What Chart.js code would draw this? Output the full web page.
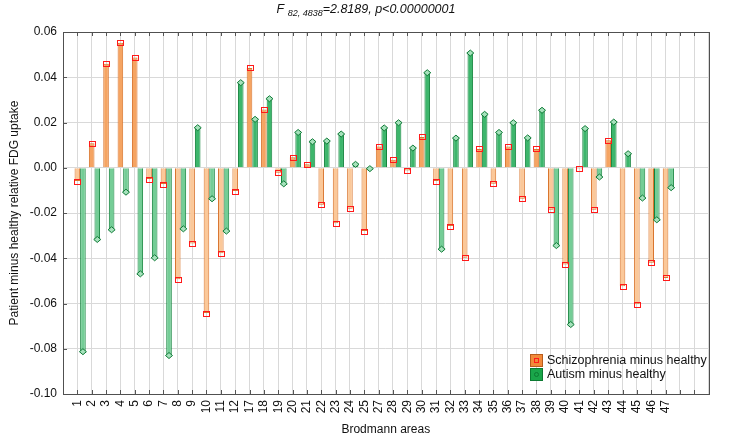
<!DOCTYPE html>
<html lang="en">
<head>
  <meta charset="UTF-8">
  <title>Brodmann areas – FDG uptake</title>
  <script src="https://cdn.jsdelivr.net/npm/chart.js@4"></script>
  <style>
    html, body { margin: 0; padding: 0; background: #fff; }
    #wrap { width: 729px; height: 441px; }
  </style>
</head>
<body>
  <div id="wrap"><canvas id="chart" width="729" height="441"></canvas></div>
  <script>
    // Brodmann areas shown on the x axis
    const areas = ['1', '2', '3', '4', '5', '6', '7', '8', '9', '10', '11', '12',
      '17', '18', '19', '20', '21', '22', '23', '24', '25',
      '27', '28', '29', '30', '31', '32', '33', '34', '35', '36', '37', '38', '39',
      '40', '41', '42', '43', '44', '45', '46', '47'];

    // Patient minus healthy relative FDG uptake
    const schizo = [-0.0059, 0.0108, 0.0460, 0.0552, 0.0487, -0.0050, -0.0072, -0.0493, -0.0335, -0.0642,
      -0.0378, -0.0103, 0.0441, 0.0258, -0.0022, 0.0046, 0.0015, -0.0164, -0.0245, -0.0181, -0.0280,
      0.0094, 0.0035, -0.0012, 0.0136, -0.0059, -0.0258, -0.0398, 0.0083, -0.0071, 0.0094, -0.0137,
      0.0083, -0.0186, -0.0428, -0.0004, -0.0186, 0.0121, -0.0524, -0.0603, -0.0420, -0.0487];
    const autism = [-0.0813, -0.0317, -0.0274, -0.0108, -0.0469, -0.0398, -0.0830, -0.0270, 0.0177, -0.0137,
      -0.0280, 0.0376, 0.0214, 0.0305, -0.0071, 0.0156, 0.0115, 0.0118, 0.0149, 0.0015, -0.0004,
      0.0176, 0.0199, 0.0087, 0.0420, -0.0360, 0.0131, 0.0507, 0.0236, 0.0156, 0.0199, 0.0132,
      0.0254, -0.0344, -0.0693, 0.0173, -0.0041, 0.0202, 0.0062, -0.0134, -0.0230, -0.0088];

    const yMin = -0.10, yMax = 0.06, yStep = 0.02;

    // one empty slot before the first area and three after the last one
    const labels = [''].concat(areas, ['', '', '']);
    const pad = arr => [null].concat(arr, [null, null, null]);

    const orange = { pos: '#F5A462', neg: '#FBC899', line: '#D9752E' };
    const green = { pos: '#3DB66C', neg: '#74CD96', line: '#15843E' };

    function fillFor(c) {
      return ctx => (ctx.raw != null && ctx.raw < 0) ? c.neg : c.pos;
    }

    // frame, inner ticks, bar-end markers, legend and title
    const decorations = {
      id: 'decorations',
      afterDatasetsDraw(chart) {
        const ctx = chart.ctx;
        const a = chart.chartArea;
        const xs = chart.scales.x, ys = chart.scales.y;
        ctx.save();

        // inner tick marks
        ctx.strokeStyle = '#555';
        ctx.lineWidth = 1;
        ctx.beginPath();
        xs.ticks.forEach((t, i) => {
          const px = Math.round(xs.getPixelForTick(i)) + 0.5;
          ctx.moveTo(px, a.top); ctx.lineTo(px, a.top + 4);
          ctx.moveTo(px, a.bottom); ctx.lineTo(px, a.bottom - 4);
        });
        ys.ticks.forEach((t, i) => {
          const py = Math.round(ys.getPixelForTick(i)) + 0.5;
          ctx.moveTo(a.left, py); ctx.lineTo(a.left + 4, py);
        });
        ctx.stroke();

        // frame
        ctx.strokeStyle = '#505050';
        ctx.strokeRect(Math.round(a.left) + 0.5, Math.round(a.top) + 0.5,
          Math.round(a.right - a.left), Math.round(a.bottom - a.top));

        // markers at the bar ends
        const sData = chart.data.datasets[1].data;
        chart.getDatasetMeta(1).data.forEach((bar, i) => {
          if (sData[i] == null) return;
          ctx.strokeStyle = '#FF1A1A';
          ctx.strokeRect(Math.round(bar.x - 3) + 0.5, Math.round(bar.y - 2.5) + 0.5, 6, 5);
        });
        const aData = chart.data.datasets[2].data;
        chart.getDatasetMeta(2).data.forEach((bar, i) => {
          if (aData[i] == null) return;
          ctx.beginPath();
          ctx.moveTo(bar.x, bar.y - 3);
          ctx.lineTo(bar.x + 3.5, bar.y);
          ctx.lineTo(bar.x, bar.y + 3);
          ctx.lineTo(bar.x - 3.5, bar.y);
          ctx.closePath();
          ctx.fillStyle = '#A6E2BC';
          ctx.fill();
          ctx.strokeStyle = '#0E7A36';
          ctx.stroke();
        });

        // legend
        const lx = 530, ly = 354;
        ctx.fillStyle = '#F28A3A';
        ctx.fillRect(lx, ly, 13, 13);
        ctx.strokeStyle = '#B85C1C';
        ctx.strokeRect(lx + 0.5, ly + 0.5, 12, 12);
        ctx.strokeStyle = '#FF1A1A';
        ctx.strokeRect(lx + 4.5, ly + 4.5, 4, 4);
        ctx.fillStyle = '#1AA64A';
        ctx.fillRect(lx, ly + 14, 13, 13);
        ctx.strokeStyle = '#0C7A32';
        ctx.strokeRect(lx + 0.5, ly + 14.5, 12, 12);
        ctx.beginPath();
        ctx.arc(lx + 6.5, ly + 20.5, 2, 0, Math.PI * 2);
        ctx.stroke();
        ctx.fillStyle = '#111';
        ctx.font = '12.5px "Liberation Sans", Arial, sans-serif';
        ctx.textBaseline = 'middle';
        ctx.textAlign = 'left';
        ctx.fillText('Schizophrenia minus healthy', lx + 17, ly + 7);
        ctx.fillText('Autism minus healthy', lx + 17, ly + 21);

        // title with subscript
        const main = 'italic 12.5px "Liberation Sans", Arial, sans-serif';
        const sub = 'italic 9px "Liberation Sans", Arial, sans-serif';
        const p1 = 'F ', p2 = '82, 4838', p3 = '=2.8189, p<0.00000001';
        ctx.font = main; const w1 = ctx.measureText(p1).width, w3 = ctx.measureText(p3).width;
        ctx.font = sub; const w2 = ctx.measureText(p2).width;
        let tx = 366 - (w1 + w2 + w3) / 2;
        const ty = 10;
        ctx.font = main; ctx.fillText(p1, tx, ty); tx += w1;
        ctx.font = sub; ctx.fillText(p2, tx, ty + 3); tx += w2;
        ctx.font = main; ctx.fillText(p3, tx, ty);

        ctx.restore();
      }
    };

    const font = { family: '"Liberation Sans", Arial, sans-serif', size: 12 };

    new Chart(document.getElementById('chart'), {
      type: 'bar',
      data: {
        labels: labels,
        datasets: [
          { label: '', data: pad(areas.map(() => null)) },
          {
            label: 'Schizophrenia minus healthy',
            data: pad(schizo),
            backgroundColor: fillFor(orange),
            borderColor: orange.line,
            borderWidth: 1
          },
          {
            label: 'Autism minus healthy',
            data: pad(autism),
            backgroundColor: fillFor(green),
            borderColor: green.line,
            borderWidth: 1
          }
        ]
      },
      options: {
        responsive: false,
        animation: false,
        categoryPercentage: 1.168,
        barPercentage: 1.0,
        layout: { padding: { top: 32, right: 7, left: 0, bottom: 0 } },
        plugins: {
          legend: { display: false },
          tooltip: { enabled: false }
        },
        scales: {
          x: {
            offset: false,
            grid: { offset: false, color: '#D9D9D9', drawTicks: false },
            border: { display: false },
            ticks: {
              autoSkip: false, minRotation: 90, maxRotation: 90,
              padding: 6, color: '#111', font: font
            },
            title: {
              display: true, text: 'Brodmann areas', color: '#111', font: font,
              padding: { top: 0, bottom: 4 }
            },
            afterFit: scale => { scale.height = 47; }
          },
          y: {
            min: yMin, max: yMax,
            grid: { color: '#D9D9D9', drawTicks: false },
            border: { display: false },
            ticks: {
              stepSize: yStep, padding: 6, color: '#111', font: font,
              callback: v => v.toFixed(2)
            },
            title: {
              display: true, text: 'Patient minus healthy relative FDG uptake',
              color: '#111', font: font, padding: { top: 7, bottom: 0 }
            },
            afterFit: scale => { scale.width = 63; }
          }
        }
      },
      plugins: [decorations]
    });
  </script>
</body>
</html>
